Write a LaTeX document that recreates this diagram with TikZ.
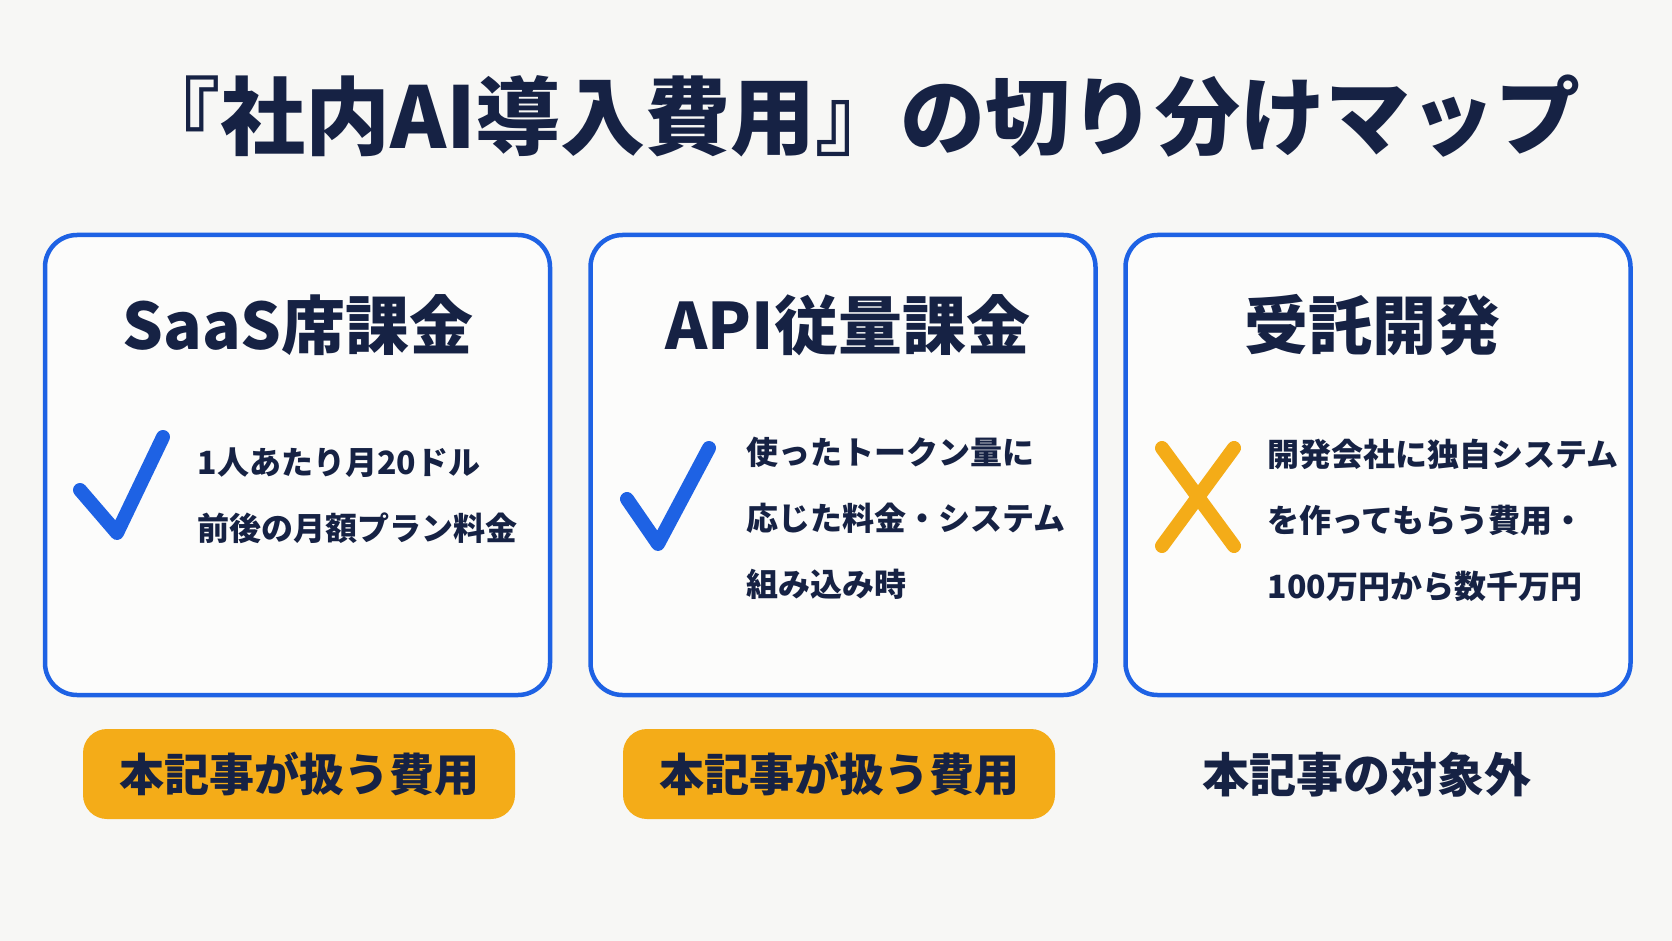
\documentclass[tikz,border=0pt]{standalone}
\usepackage{fontspec}
\setmainfont{Noto Sans CJK JP}
\definecolor{ink}{RGB}{22,34,68}
\definecolor{frame}{RGB}{30,98,228}
\definecolor{amber}{RGB}{244,172,24}
\definecolor{paper}{RGB}{247,247,245}
\tikzset{
 card/.style={draw=frame,line width=4.5pt,rounded corners=32pt,fill=white!60!paper,minimum width=505pt,minimum height=460pt},
 head/.style={text=ink,font=\fontsize{64}{70}\selectfont\bfseries},
 body/.style={text=ink,anchor=west,align=left,font=\fontsize{32}{66}\selectfont\bfseries},
 tag/.style={text=ink,font=\fontsize{45}{50}\selectfont\bfseries,rounded corners=24pt,minimum width=432pt,minimum height=90pt},
 tick/.style={line width=14pt,line cap=round,line join=round},
}
\begin{document}
\begin{tikzpicture}[x=1pt,y=-1pt]
 \fill[paper] (0,0) rectangle (1672,941);
 \useasboundingbox (0,0) rectangle (1672,941);
 \node[text=ink,font=\fontsize{85}{90}\selectfont\bfseries] (title) at (858,116) {『社内AI導入費用』の切り分けマップ};
 \node[card] (saas) at (297.5,465) {};
 \node[card] (api) at (843,465) {};
 \node[card] (dev) at (1378,465) {};
 \node[head] (saash) at (298,325) {SaaS席課金};
 \node[head] (apih) at (848,325) {API従量課金};
 \node[head] (devh) at (1372,325) {受託開発};
 \node[body] (saasb) at (194,496) {1人あたり月20ドル\\前後の月額プラン料金};
 \node[body] (apib) at (743,518) {使ったトークン量に\\応じた料金・システム\\組み込み時};
 \node[body] (devb) at (1264,520) {開発会社に独自システム\\を作ってもらう費用・\\100万円から数千万円};
 \draw[tick,frame] (80,490)--(117,533)--(163,437);
 \draw[tick,frame] (627,499)--(658,544)--(709,448);
 \draw[tick,amber] (1162,448)--(1234,546) (1234,448)--(1162,546);
 \node[tag,fill=amber] (saast) at (299,774) {本記事が扱う費用};
 \node[tag,fill=amber] (apit) at (839,774) {本記事が扱う費用};
 \node[tag,font=\fontsize{47}{50}\selectfont\bfseries] (devt) at (1367,775) {本記事の対象外};
\end{tikzpicture}
\end{document}
